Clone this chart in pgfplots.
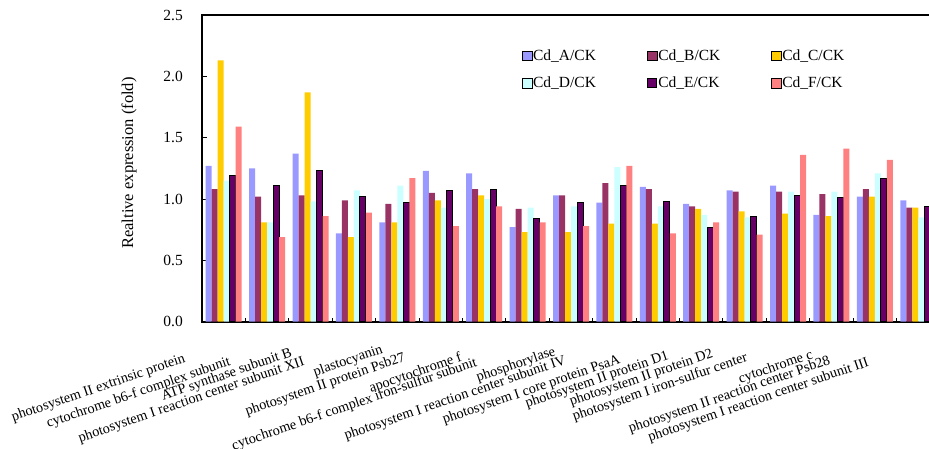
\documentclass[border=0pt]{standalone}
\usepackage{fontspec}
\setmainfont{Liberation Serif}
\usepackage{pgfplots}
\usepackage{pgfplotstable}
\pgfplotsset{compat=1.18}

\definecolor{cA}{HTML}{9999FF}
\definecolor{cB}{HTML}{993366}
\definecolor{cC}{HTML}{FFCC00}
\definecolor{cD}{HTML}{CCFFFF}
\definecolor{cE}{HTML}{660066}
\definecolor{cF}{HTML}{FF8080}

\pgfplotstableread{
x A B C D E F
0 1.27 1.08 2.13 1.15 1.19 1.59
1 1.25 1.02 0.81 0.81 1.11 0.69
2 1.37 1.03 1.87 0.98 1.23 0.86
3 0.72 0.99 0.69 1.07 1.02 0.89
4 0.81 0.96 0.81 1.11 0.97 1.17
5 1.23 1.05 0.99 0.93 1.07 0.78
6 1.21 1.08 1.03 1.00 1.08 0.94
7 0.77 0.92 0.73 0.93 0.84 0.81
8 1.03 1.03 0.73 0.94 0.97 0.78
9 0.97 1.13 0.80 1.26 1.11 1.27
10 1.10 1.08 0.80 0.94 0.98 0.72
11 0.96 0.94 0.92 0.87 0.77 0.81
12 1.07 1.06 0.90 0.85 0.86 0.71
13 1.11 1.06 0.88 1.06 1.03 1.36
14 0.87 1.04 0.86 1.06 1.01 1.41
15 1.02 1.08 1.02 1.21 1.17 1.32
16 0.99 0.93 0.93 0.85 0.94 1.00
}\data

\begin{document}
\begin{tikzpicture}
\begin{axis}[
  at={(0pt,0pt)}, anchor=south west,
  scale only axis, width=738pt, height=306.7pt,
  xmin=-0.5, xmax=16.5, ymin=0, ymax=2.5,
  ybar=0pt, bar width=6pt,
  axis line style={line width=1.6pt, black},
  tick align=inside,
  xtick pos=bottom, ytick pos=left,
  ytick={0,0.5,1,1.5,2,2.5},
  major tick length=5pt, minor tick length=4pt,
  every tick/.style={black, line width=1pt},
  xtick={0,...,16},
  minor xtick={-0.5,0.5,1.5,...,16.5},
  major x tick style={draw=none},
  /pgf/number format/assume math mode=true,
  yticklabel style={/pgf/number format/.cd, fixed, fixed zerofill, precision=1, /tikz/.cd,
    font=\fontsize{15.5}{17}\selectfont, inner sep=0pt, xshift=-19pt},
  xticklabels={photosystem II extrinsic protein, cytochrome b6-f complex subunit, ATP synthase subunit B, photosystem I reaction center subunit XII, plastocyanin, photosystem II protein Psb27, apocytochrome f, cytochrome b6-f complex iron-sulfur subunit, phosphorylase, photosystem I reaction center subunit IV, photosystem I core protein PsaA, photosystem II protein D1, photosystem II protein D2, photosystem I iron-sulfur center, cytochrome c, photosystem II reaction center Psb28, photosystem I reaction center subunit III},
  xticklabel style={inner sep=0pt, outer sep=0pt, font=\fontsize{14.3}{16}\selectfont,
    xshift={{-39,-37,-19,-50,-15,-36,-23,-51,-16,-49,-38,-33,-32,-41,-19,-45,-50}[\ticknum]},
    yshift={{-37,-40,-31,-40,-28,-36,-36,-41,-30,-39,-38,-34,-32,-36,-33,-39,-41}[\ticknum]},
    rotate=19, anchor=east},
  ylabel={Realtive expression (fold)},
  every axis y label/.style={at={(axis description cs:-0.0989,0.5175)}, rotate=90, anchor=center,
    font=\fontsize{16.5}{18}\selectfont},
  legend columns=3,
  legend image code/.code={\draw[#1] (0pt,-4.7pt) rectangle (9.5pt,4.7pt);},
  legend style={draw=none, fill=none, inner sep=0pt, at={(axis description cs:0.4336,0.892)}, anchor=north west,
    font=\fontsize{15.5}{17}\selectfont, row sep=13.5pt, nodes={inner sep=1pt, anchor=west},
    /tikz/every even column/.append style={column sep=50pt}},
]
\addplot[fill=cA, draw=none] table[x=x, y=A] {\data};
\addplot[fill=cB, draw=none] table[x=x, y=B] {\data};
\addplot[fill=cC, draw=none] table[x=x, y=C] {\data};
\addplot[fill=cD, draw=none] table[x=x, y=D] {\data};
\addplot[fill=cE, draw=black, line width=0.9pt] table[x=x, y=E] {\data};
\addplot[fill=cF, draw=none] table[x=x, y=F] {\data};
\legend{Cd\_A/CK, Cd\_B/CK, Cd\_C/CK, Cd\_D/CK, Cd\_E/CK, Cd\_F/CK}
\end{axis}
\pgfresetboundingbox
\useasboundingbox (-202pt,-126.3pt) rectangle (727pt,321.7pt);
\end{tikzpicture}
\end{document}
